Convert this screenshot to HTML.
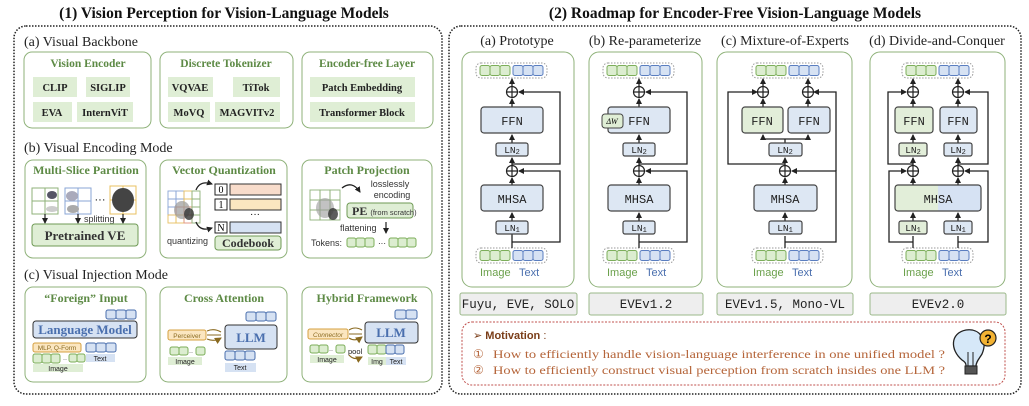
<!DOCTYPE html>
<html><head><meta charset="utf-8"><style>
html,body{margin:0;padding:0;background:#fff}
svg{display:block}
.sf{font-family:"Liberation Serif",serif}
.ss{font-family:"Liberation Sans",sans-serif}
.mo{font-family:"Liberation Mono",monospace}
</style></head><body>
<svg width="1029" height="406" viewBox="0 0 1029 406" xmlns="http://www.w3.org/2000/svg">
<defs>
<marker id="ar" markerWidth="6" markerHeight="6" refX="5" refY="3" orient="auto" markerUnits="userSpaceOnUse"><path d="M0,0 L6,3 L0,6 z" fill="#222"/></marker>
<marker id="arb" markerWidth="7" markerHeight="7" refX="6" refY="3.5" orient="auto" markerUnits="userSpaceOnUse"><path d="M0,0 L7,3.5 L0,7 z" fill="#8a6a20"/></marker>
<g id="tb">
<rect x="0" y="0" width="71" height="15" rx="5" fill="#fff" stroke="#999" stroke-dasharray="1.5,1.5"/>
<rect x="4" y="2.5" width="10" height="10" rx="2" fill="#dcedd0" stroke="#7cae5a"/>
<rect x="14" y="2.5" width="10" height="10" rx="2" fill="#dcedd0" stroke="#7cae5a"/>
<rect x="24" y="2.5" width="10" height="10" rx="2" fill="#dcedd0" stroke="#7cae5a"/>
<rect x="37" y="2.5" width="10" height="10" rx="2" fill="#d6e2f3" stroke="#5a7ec0"/>
<rect x="47" y="2.5" width="10" height="10" rx="2" fill="#d6e2f3" stroke="#5a7ec0"/>
<rect x="57" y="2.5" width="10" height="10" rx="2" fill="#d6e2f3" stroke="#5a7ec0"/>
</g>
<g id="pl"><circle cx="0" cy="0" r="5.5" fill="#fff" stroke="#222" stroke-width="1.2"/><path d="M-5.5,0H5.5M0,-5.5V5.5" stroke="#222" stroke-width="1.2"/></g>
<g id="g3"><rect x="0" y="0" width="9" height="9" rx="2" fill="#dcedd0" stroke="#7cae5a"/><rect x="9" y="0" width="9" height="9" rx="2" fill="#dcedd0" stroke="#7cae5a"/><rect x="18" y="0" width="9" height="9" rx="2" fill="#dcedd0" stroke="#7cae5a"/></g>
<g id="b3"><rect x="0" y="0" width="10" height="9" rx="2" fill="#d6e2f3" stroke="#4a6fae"/><rect x="10" y="0" width="10" height="9" rx="2" fill="#d6e2f3" stroke="#4a6fae"/><rect x="20" y="0" width="10" height="9" rx="2" fill="#d6e2f3" stroke="#4a6fae"/></g>
</defs>

<text x="224" y="18" text-anchor="middle" class="sf" font-size="15.5" font-weight="bold" fill="#111">(1) Vision Perception for Vision-Language Models</text>
<text x="735" y="18" text-anchor="middle" class="sf" font-size="15.5" font-weight="bold" fill="#111">(2) Roadmap for Encoder-Free Vision-Language Models</text>

<rect x="14" y="26" width="428" height="368" rx="12" fill="none" stroke="#222" stroke-width="1.5" stroke-dasharray="1.5,1.5"/>
<rect x="449" y="26" width="572" height="368" rx="12" fill="none" stroke="#222" stroke-width="1.5" stroke-dasharray="1.5,1.5"/>

<text x="24" y="46" class="sf" font-size="14" fill="#222">(a) Visual Backbone</text>
<g fill="#fff" stroke="#8fb27a" stroke-width="1">
<rect x="24" y="52" width="127" height="76" rx="8"/>
<rect x="160" y="52" width="133" height="76" rx="8"/>
<rect x="302" y="52" width="131" height="76" rx="8"/>
</g>
<g class="sf" font-size="11.5" font-weight="bold" fill="#5d8a45" text-anchor="middle">
<text x="88" y="67">Vision Encoder</text>
<text x="226" y="67">Discrete Tokenizer</text>
<text x="367" y="67">Encoder-free Layer</text>
</g>
<g fill="#dfeed5">
<rect x="33" y="77" width="44" height="20"/><rect x="86" y="77" width="44" height="20"/>
<rect x="33" y="102" width="39" height="20"/><rect x="77" y="102" width="56" height="20"/>
<rect x="168" y="77" width="45" height="20"/><rect x="233" y="77" width="47" height="20"/>
<rect x="168" y="102" width="42" height="20"/><rect x="215" y="102" width="65" height="20"/>
<rect x="310" y="77" width="105" height="20"/><rect x="310" y="102" width="105" height="20"/>
</g>
<g class="sf" font-size="10.5" font-weight="bold" fill="#222" text-anchor="middle">
<text x="55" y="91">CLIP</text><text x="108" y="91">SIGLIP</text>
<text x="52" y="116">EVA</text><text x="105" y="116">InternViT</text>
<text x="190" y="91">VQVAE</text><text x="256" y="91">TiTok</text>
<text x="189" y="116">MoVQ</text><text x="247" y="116">MAGVITv2</text>
<text x="362" y="91">Patch Embedding</text><text x="362" y="116">Transformer Block</text>
</g>

<text x="24" y="152" class="sf" font-size="14" fill="#222">(b) Visual Encoding Mode</text>
<g fill="#fff" stroke="#8fb27a">
<rect x="25" y="160" width="121" height="98" rx="8"/>
<rect x="160" y="160" width="127" height="98" rx="8"/>
<rect x="302" y="160" width="130" height="98" rx="8"/>
</g>
<g class="sf" font-size="12" font-weight="bold" fill="#5d8a45" text-anchor="middle">
<text x="86" y="174">Multi-Slice Partition</text>
<text x="224" y="174">Vector Quantization</text>
<text x="367" y="174">Patch Projection</text>
</g>
<g fill="none" stroke-width="1">
<path d="M32,188h26v26h-26zM45,188v26M32,201h26" stroke="#8fb27a"/>
<path d="M65,188h26v26h-26zM78,188v26M65,201h26" stroke="#8aa6d6"/>
<path d="M110,186h26v28h-26zM123,186v28M110,200h26" stroke="#e8c060"/>
</g>
<ellipse cx="52" cy="195" rx="5" ry="4" fill="#556"/>
<ellipse cx="72" cy="196" rx="6" ry="5" fill="#aab"/>
<ellipse cx="52" cy="209" rx="6" ry="3" fill="#ccc"/>
<ellipse cx="73" cy="209" rx="6" ry="4" fill="#aaa"/>
<ellipse cx="123" cy="200" rx="11" ry="12" fill="#444"/>
<text x="100" y="203" class="ss" font-size="11" text-anchor="middle">···</text>
<g stroke="#222" stroke-width="1.2" marker-end="url(#ar)">
<path d="M45,214V223"/><path d="M78,214V223"/><path d="M123,214V223"/>
</g>
<text x="84" y="222" class="ss" font-size="9" fill="#333">splitting</text>
<rect x="32" y="224" width="106" height="22" rx="3" fill="#dfeed5" stroke="#6f9a55"/>
<text x="85" y="240" text-anchor="middle" class="sf" font-size="13" font-weight="bold" fill="#333">Pretrained VE</text>
<g fill="none" stroke-width="0.9">
<rect x="168" y="191" width="8" height="8" stroke="#8aa6d6"/><rect x="176" y="191" width="8" height="8" stroke="#8aa6d6"/><rect x="184" y="191" width="8" height="8" stroke="#e8c060"/><rect x="192" y="191" width="8" height="8" stroke="#8fb27a"/>
<rect x="168" y="199" width="8" height="8" stroke="#8aa6d6"/><rect x="176" y="199" width="8" height="8" stroke="#8aa6d6"/><rect x="184" y="199" width="8" height="8" stroke="#e8c060"/><rect x="192" y="199" width="8" height="8" stroke="#8fb27a"/>
<rect x="168" y="207" width="8" height="8" stroke="#8aa6d6"/><rect x="176" y="207" width="8" height="8" stroke="#e0907a"/><rect x="184" y="207" width="8" height="8" stroke="#e0907a"/><rect x="192" y="207" width="8" height="8" stroke="#8fb27a"/>
<rect x="168" y="215" width="8" height="8" stroke="#e8c060"/><rect x="176" y="215" width="8" height="8" stroke="#e8c060"/><rect x="184" y="215" width="8" height="8" stroke="#e0907a"/><rect x="192" y="215" width="8" height="8" stroke="#8fb27a"/>
</g>
<ellipse cx="182" cy="210" rx="8" ry="9" fill="#999" opacity="0.7"/>
<ellipse cx="189" cy="214" rx="5" ry="6" fill="#333" opacity="0.8"/>
<path d="M196,190 Q200,180 212,184" fill="none" stroke="#222" stroke-width="1.3" marker-end="url(#ar)"/>
<path d="M196,222 Q200,232 212,228" fill="none" stroke="#222" stroke-width="1.3" marker-end="url(#ar)"/>
<g stroke="#222" fill="#fff"><rect x="215" y="184" width="12" height="11"/><rect x="215" y="199" width="12" height="11"/><rect x="215" y="222" width="12" height="11"/></g>
<g class="sf" font-size="10" text-anchor="middle"><text x="221" y="193">0</text><text x="221" y="208">1</text><text x="221" y="231">N</text></g>
<rect x="230" y="184" width="51" height="11" fill="#f8dccb" stroke="#333"/>
<rect x="230" y="199" width="51" height="11" fill="#fbe6c0" stroke="#333"/>
<rect x="230" y="222" width="51" height="11" fill="#d6e2f3" stroke="#333"/>
<text x="255" y="217" text-anchor="middle" class="ss" font-size="10">···</text>
<rect x="215" y="236" width="66" height="14" rx="3" fill="#dfeed5" stroke="#6f9a55"/>
<text x="248" y="247" text-anchor="middle" class="sf" font-size="12" font-weight="bold" fill="#333">Codebook</text>
<text x="167" y="244" class="ss" font-size="9" fill="#333">quantizing</text>
<g fill="none" stroke="#8fb27a" stroke-width="0.9">
<rect x="310" y="190" width="10" height="10"/><rect x="320" y="190" width="10" height="10"/><rect x="330" y="190" width="10" height="10"/>
<rect x="310" y="200" width="10" height="10"/><rect x="320" y="200" width="10" height="10"/><rect x="330" y="200" width="10" height="10"/>
<rect x="310" y="210" width="10" height="10"/><rect x="320" y="210" width="10" height="10"/><rect x="330" y="210" width="10" height="10"/>
</g>
<ellipse cx="325" cy="208" rx="9" ry="10" fill="#999" opacity="0.6"/>
<ellipse cx="333" cy="214" rx="5" ry="6" fill="#333" opacity="0.8"/>
<path d="M342,188 Q352,180 360,192" fill="none" stroke="#222" stroke-width="1.3" marker-end="url(#ar)"/>
<text x="390" y="187" text-anchor="middle" class="ss" font-size="9" fill="#333">losslessly</text>
<text x="392" y="198" text-anchor="middle" class="ss" font-size="9" fill="#333">encoding</text>
<rect x="347" y="203" width="66" height="15" rx="3" fill="#dfeed5" stroke="#6f9a55"/>
<text x="352" y="215" class="sf" font-size="12" font-weight="bold" fill="#333">PE <tspan font-size="7.5" class="ss" font-weight="normal">(from scratch)</tspan></text>
<text x="340" y="231" class="ss" font-size="9" fill="#333">flattening</text>
<path d="M386,222V233" stroke="#222" stroke-width="1.2" marker-end="url(#ar)"/>
<text x="311" y="246" class="ss" font-size="9" fill="#333">Tokens:</text>
<use href="#g3" x="347" y="238"/><text x="378" y="246" class="ss" font-size="8">···</text><use href="#g3" x="389" y="238"/>

<text x="24" y="279" class="sf" font-size="14" fill="#222">(c) Visual Injection Mode</text>
<g fill="#fff" stroke="#8fb27a">
<rect x="25" y="287" width="121" height="95" rx="8"/>
<rect x="160" y="287" width="127" height="95" rx="8"/>
<rect x="302" y="287" width="130" height="95" rx="8"/>
</g>
<g class="sf" font-size="12" font-weight="bold" fill="#5d8a45" text-anchor="middle">
<text x="86" y="302">“Foreign” Input</text>
<text x="224" y="302">Cross Attention</text>
<text x="367" y="302">Hybrid Framework</text>
</g>
<use href="#b3" x="106" y="310"/>
<rect x="33" y="321" width="104" height="17" rx="3" fill="#d6e2f3" stroke="#333"/>
<text x="85" y="334" text-anchor="middle" class="sf" font-size="13" font-weight="bold" fill="#4a6fae">Language Model</text>
<rect x="33" y="343" width="48" height="9" rx="2" fill="#fbe6c0" stroke="#d4a040"/>
<text x="57" y="350" text-anchor="middle" class="ss" font-size="6.5" fill="#8a6a20">MLP, Q-Form</text>
<use href="#b3" x="86" y="343"/>
<rect x="86" y="354" width="29" height="8" fill="#d6e2f3"/>
<text x="100" y="361" text-anchor="middle" class="ss" font-size="7" fill="#222">Text</text>
<use href="#g3" x="33" y="354"/>
<text x="63" y="361" class="ss" font-size="6">··</text>
<rect x="69" y="354" width="8" height="8" rx="2" fill="#dcedd0" stroke="#7cae5a"/><rect x="77" y="354" width="8" height="8" rx="2" fill="#dcedd0" stroke="#7cae5a"/>
<rect x="33" y="364" width="50" height="8" fill="#dfeed5"/>
<text x="58" y="371" text-anchor="middle" class="ss" font-size="7" fill="#222">Image</text>
<use href="#b3" x="246" y="312"/>
<rect x="225" y="325" width="52" height="24" rx="3" fill="#d6e2f3" stroke="#333"/>
<text x="251" y="342" text-anchor="middle" class="sf" font-size="13" font-weight="bold" fill="#4a6fae">LLM</text>
<rect x="168" y="330" width="38" height="10" rx="2" fill="#fbe6c0" stroke="#d4a040"/>
<text x="187" y="338" text-anchor="middle" class="ss" font-size="6.5" fill="#8a6a20">Perceiver</text>
<path d="M207,331 Q214,328 221,332M207,335H221M207,339 Q214,342 221,338" fill="none" stroke="#8a6a20" stroke-width="1.1" marker-end="url(#arb)"/>
<rect x="170" y="347" width="9" height="8" rx="2" fill="#dcedd0" stroke="#7cae5a"/><rect x="179" y="347" width="9" height="8" rx="2" fill="#dcedd0" stroke="#7cae5a"/>
<text x="189" y="354" class="ss" font-size="6">··</text>
<rect x="196" y="347" width="9" height="8" rx="2" fill="#dcedd0" stroke="#7cae5a"/>
<rect x="168" y="357" width="34" height="8" fill="#dfeed5"/>
<text x="185" y="364" text-anchor="middle" class="ss" font-size="7" fill="#222">Image</text>
<use href="#b3" x="225" y="351"/>
<rect x="225" y="363" width="31" height="9" fill="#d6e2f3"/>
<text x="240" y="370" text-anchor="middle" class="ss" font-size="7" fill="#222">Text</text>
<rect x="395" y="310" width="11" height="9" rx="2" fill="#d6e2f3" stroke="#4a6fae"/><rect x="406" y="310" width="11" height="9" rx="2" fill="#d6e2f3" stroke="#4a6fae"/>
<rect x="365" y="322" width="53" height="21" rx="3" fill="#d6e2f3" stroke="#333"/>
<text x="391" y="337" text-anchor="middle" class="sf" font-size="13" font-weight="bold" fill="#4a6fae">LLM</text>
<rect x="308" y="329" width="40" height="10" rx="2" fill="#fbe6c0" stroke="#d4a040"/>
<text x="328" y="337" text-anchor="middle" class="ss" font-size="6.5" font-style="italic" fill="#8a6a20">Connector</text>
<path d="M349,330 Q355,326 362,330M349,334H362M349,338 Q355,342 362,337" fill="none" stroke="#8a6a20" stroke-width="1.1" marker-end="url(#arb)"/>
<rect x="310" y="345" width="9" height="8" rx="2" fill="#dcedd0" stroke="#7cae5a"/><rect x="319" y="345" width="9" height="8" rx="2" fill="#dcedd0" stroke="#7cae5a"/>
<text x="329" y="352" class="ss" font-size="6">··</text>
<rect x="336" y="345" width="9" height="8" rx="2" fill="#dcedd0" stroke="#7cae5a"/>
<text x="348" y="354" class="ss" font-size="7.5" fill="#222">pool</text>
<path d="M349,355 Q354,361 362,357" fill="none" stroke="#8a6a20" stroke-width="1.1" marker-end="url(#arb)"/>
<rect x="310" y="355" width="34" height="8" fill="#dfeed5"/>
<text x="327" y="362" text-anchor="middle" class="ss" font-size="7" fill="#222">Image</text>
<rect x="368" y="345" width="9" height="9" rx="2" fill="#dcedd0" stroke="#7cae5a"/><rect x="377" y="345" width="9" height="9" rx="2" fill="#dcedd0" stroke="#7cae5a"/>
<rect x="386" y="345" width="9" height="9" rx="2" fill="#d6e2f3" stroke="#4a6fae"/><rect x="395" y="345" width="9" height="9" rx="2" fill="#d6e2f3" stroke="#4a6fae"/>
<rect x="368" y="357" width="18" height="8" fill="#dfeed5"/><rect x="386" y="357" width="20" height="8" fill="#d6e2f3"/>
<text x="377" y="364" text-anchor="middle" class="ss" font-size="7" fill="#222">Img</text>
<text x="396" y="364" text-anchor="middle" class="ss" font-size="7" fill="#222">Text</text>

<g class="sf" font-size="14" fill="#222" text-anchor="middle">
<text x="517" y="45">(a) Prototype</text>
<text x="645" y="45">(b) Re-parameterize</text>
<text x="785" y="45">(c) Mixture-of-Experts</text>
<text x="937" y="45">(d) Divide-and-Conquer</text>
</g>
<g fill="#fff" stroke="#8fb27a">
<rect x="462" y="52" width="112" height="235" rx="10"/>
<rect x="589" y="52" width="113" height="235" rx="10"/>
<rect x="717" y="52" width="135" height="235" rx="10"/>
<rect x="870" y="52" width="135" height="235" rx="10"/>
</g>
<g fill="#eeeeee" stroke="#9bb88a">
<rect x="460" y="293" width="117" height="22" rx="2"/>
<rect x="589" y="293" width="114" height="22" rx="2"/>
<rect x="717" y="293" width="136" height="22" rx="2"/>
<rect x="870" y="293" width="136" height="22" rx="2"/>
</g>
<g class="mo" font-size="12.5" fill="#222" text-anchor="middle">
<text x="518" y="308">Fuyu, EVE, SOLO</text>
<text x="646" y="308">EVEv1.2</text>
<text x="785" y="308">EVEv1.5, Mono-VL</text>
<text x="938" y="308">EVEv2.0</text>
</g>

<g id="colA">
<use href="#tb" x="476" y="63"/>
<use href="#tb" x="476" y="248"/>
<g stroke="#222" stroke-width="1.3" fill="none">
<path d="M512,248V226"/><path d="M512,221V213" marker-end="url(#ar)"/>
<path d="M512,242H560V171H519" marker-end="url(#ar)"/>
<path d="M512,185V178" marker-end="url(#ar)"/>
<path d="M512,165V158" marker-end="url(#ar)"/>
<path d="M512,164H560V92H519" marker-end="url(#ar)"/>
<path d="M512,143V135" marker-end="url(#ar)"/>
<path d="M512,107V99" marker-end="url(#ar)"/>
<path d="M512,86V79" marker-end="url(#ar)"/>
</g>
<use href="#pl" x="512" y="92"/><use href="#pl" x="512" y="171"/>
<rect x="481" y="107" width="62" height="26" rx="3" fill="#dde7f3" stroke="#444" stroke-width="1.2"/>
<rect x="496" y="143" width="32" height="13" rx="2" fill="#dde7f3" stroke="#444" stroke-width="1.2"/>
<rect x="481" y="185" width="62" height="26" rx="3" fill="#dde7f3" stroke="#444" stroke-width="1.2"/>
<rect x="496" y="221" width="32" height="13" rx="2" fill="#dde7f3" stroke="#444" stroke-width="1.2"/>
</g>
<use href="#colA" x="127" y="0"/>
<g class="mo" font-size="12" fill="#222" text-anchor="middle">
<text x="512" y="125">FFN</text><text x="512" y="203">MHSA</text>
<text x="639" y="125">FFN</text><text x="639" y="203">MHSA</text>
</g>
<g class="mo" font-size="9.5" fill="#222" text-anchor="middle">
<text x="512" y="153">LN<tspan font-size="7" dy="1">2</tspan></text><text x="512" y="231">LN<tspan font-size="7" dy="1">1</tspan></text>
<text x="639" y="153">LN<tspan font-size="7" dy="1">2</tspan></text><text x="639" y="231">LN<tspan font-size="7" dy="1">1</tspan></text>
</g>
<rect x="602" y="114" width="21" height="14" rx="3" fill="#dfeed5" stroke="#444"/>
<text x="612" y="124" text-anchor="middle" class="sf" font-size="8" font-style="italic">ΔW</text>

<use href="#tb" x="752" y="63"/>
<use href="#tb" x="752" y="248"/>
<g stroke="#222" stroke-width="1.3" fill="none">
<path d="M785,248V236"/>
<path d="M785,242H836V171H792" marker-end="url(#ar)"/>
<path d="M785,221V213" marker-end="url(#ar)"/>
<path d="M785,185V178" marker-end="url(#ar)"/>
<path d="M785,165V158" marker-end="url(#ar)"/>
<path d="M785,164H728V92H757" marker-end="url(#ar)"/>
<path d="M836,171V92H814" marker-end="url(#ar)"/>
<path d="M785,143V139"/><path d="M763,139H808"/>
<path d="M763,139V135" marker-end="url(#ar)"/><path d="M808,139V135" marker-end="url(#ar)"/>
<path d="M763,107V99" marker-end="url(#ar)"/><path d="M808,107V99" marker-end="url(#ar)"/>
<path d="M763,86V79" marker-end="url(#ar)"/><path d="M808,86V79" marker-end="url(#ar)"/>
</g>
<use href="#pl" x="763" y="92"/><use href="#pl" x="808" y="92"/><use href="#pl" x="785" y="171"/>
<rect x="742" y="107" width="41" height="26" rx="3" fill="#e2eed9" stroke="#444" stroke-width="1.2"/>
<rect x="788" y="107" width="42" height="26" rx="3" fill="#dde7f3" stroke="#444" stroke-width="1.2"/>
<rect x="769" y="143" width="33" height="13" rx="2" fill="#dde7f3" stroke="#444" stroke-width="1.2"/>
<rect x="754" y="185" width="63" height="26" rx="3" fill="#dde7f3" stroke="#444" stroke-width="1.2"/>
<rect x="769" y="221" width="33" height="13" rx="2" fill="#dde7f3" stroke="#444" stroke-width="1.2"/>
<g class="mo" font-size="12" fill="#222" text-anchor="middle">
<text x="762" y="125">FFN</text><text x="809" y="125">FFN</text><text x="785" y="203">MHSA</text>
</g>
<g class="mo" font-size="9.5" fill="#222" text-anchor="middle">
<text x="785" y="153">LN<tspan font-size="7" dy="1">2</tspan></text><text x="785" y="231">LN<tspan font-size="7" dy="1">1</tspan></text>
</g>

<use href="#tb" x="902" y="63"/>
<use href="#tb" x="902" y="248"/>
<g stroke="#222" stroke-width="1.3" fill="none">
<path d="M913,248V236"/><path d="M958,248V236"/>
<path d="M913,221V213" marker-end="url(#ar)"/><path d="M958,221V213" marker-end="url(#ar)"/>
<path d="M913,242H889V171H906" marker-end="url(#ar)"/>
<path d="M958,242H988V171H965" marker-end="url(#ar)"/>
<path d="M913,185V178" marker-end="url(#ar)"/><path d="M958,185V178" marker-end="url(#ar)"/>
<path d="M913,165V158" marker-end="url(#ar)"/><path d="M958,165V158" marker-end="url(#ar)"/>
<path d="M913,164H888V92H906" marker-end="url(#ar)"/>
<path d="M958,164H988V92H965" marker-end="url(#ar)"/>
<path d="M913,143V135" marker-end="url(#ar)"/><path d="M958,143V135" marker-end="url(#ar)"/>
<path d="M913,107V99" marker-end="url(#ar)"/><path d="M958,107V99" marker-end="url(#ar)"/>
<path d="M913,86V79" marker-end="url(#ar)"/><path d="M958,86V79" marker-end="url(#ar)"/>
</g>
<use href="#pl" x="913" y="92"/><use href="#pl" x="958" y="92"/><use href="#pl" x="913" y="171"/><use href="#pl" x="958" y="171"/>
<rect x="895" y="107" width="38" height="26" rx="3" fill="#e2eed9" stroke="#444" stroke-width="1.2"/>
<rect x="940" y="107" width="37" height="26" rx="3" fill="#dde7f3" stroke="#444" stroke-width="1.2"/>
<rect x="899" y="143" width="28" height="13" rx="2" fill="#e2eed9" stroke="#444" stroke-width="1.2"/>
<rect x="944" y="143" width="28" height="13" rx="2" fill="#dde7f3" stroke="#444" stroke-width="1.2"/>
<rect x="895" y="185" width="43" height="26" fill="#e2eed9"/>
<rect x="938" y="185" width="43" height="26" fill="#d6e2f3"/>
<rect x="895" y="185" width="86" height="26" rx="3" fill="none" stroke="#444" stroke-width="1.2"/>
<rect x="899" y="221" width="28" height="13" rx="2" fill="#e2eed9" stroke="#444" stroke-width="1.2"/>
<rect x="944" y="221" width="28" height="13" rx="2" fill="#dde7f3" stroke="#444" stroke-width="1.2"/>
<g class="mo" font-size="12" fill="#222" text-anchor="middle">
<text x="914" y="125">FFN</text><text x="958" y="125">FFN</text><text x="938" y="203">MHSA</text>
</g>
<g class="mo" font-size="9.5" fill="#222" text-anchor="middle">
<text x="913" y="153">LN<tspan font-size="7" dy="1">2</tspan></text><text x="958" y="153">LN<tspan font-size="7" dy="1">2</tspan></text>
<text x="913" y="231">LN<tspan font-size="7" dy="1">1</tspan></text><text x="958" y="231">LN<tspan font-size="7" dy="1">1</tspan></text>
</g>

<g class="ss" font-size="11">
<text x="480" y="276" fill="#6aa04a">Image</text><text x="519" y="276" fill="#4a6fae">Text</text>
<text x="607" y="276" fill="#6aa04a">Image</text><text x="646" y="276" fill="#4a6fae">Text</text>
<text x="753" y="276" fill="#6aa04a">Image</text><text x="792" y="276" fill="#4a6fae">Text</text>
<text x="903" y="276" fill="#6aa04a">Image</text><text x="942" y="276" fill="#4a6fae">Text</text>
</g>

<rect x="462" y="322" width="543" height="63" rx="10" fill="#fff" stroke="#c0504d" stroke-dasharray="2,1.5"/>
<text x="473" y="339" class="ss" font-size="11" fill="#7a3d18">➢ <tspan font-weight="bold">Motivation</tspan> :</text>
<g class="sf" font-size="12" fill="#b5653a">
<text x="473" y="358">①</text><text x="493" y="358" textLength="452" lengthAdjust="spacingAndGlyphs">How to efficiently handle vision-language interference in one unified model ?</text>
<text x="473" y="374">②</text><text x="493" y="374" textLength="452" lengthAdjust="spacingAndGlyphs">How to efficiently construct visual perception from scratch insides one LLM ?</text>
</g>
<path d="M962,360 C950,350 950,333 966,330 C980,328 988,340 982,354 C979,359 976,362 976,366 L966,366 C966,363 965,362 962,360z" fill="#d6e8f8" stroke="#222" stroke-width="1.3"/>
<rect x="965" y="366" width="12" height="8" fill="#555" stroke="#222"/>
<path d="M968,366V352M973,366V352" stroke="#222"/>
<circle cx="988" cy="338" r="8" fill="#f2b233" stroke="#222" stroke-width="1.2"/>
<text x="988" y="343" text-anchor="middle" class="ss" font-size="12" font-weight="bold">?</text>
</svg>
</body></html>
